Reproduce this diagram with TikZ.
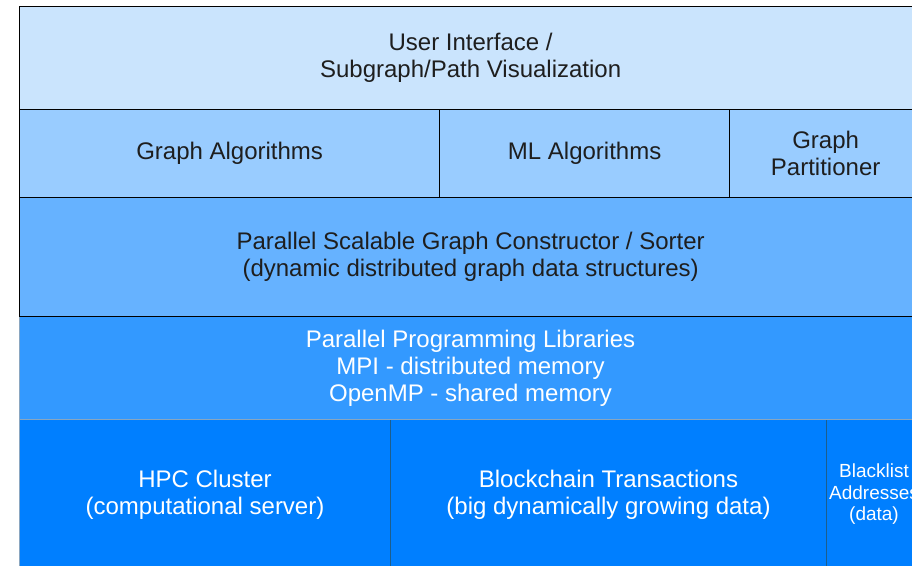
\documentclass[tikz,border=0pt]{standalone}
\usepackage{fontspec}
\setmainfont{Liberation Sans}
\definecolor{cA}{HTML}{CAE4FD}
\definecolor{cB}{HTML}{99CCFF}
\definecolor{cC}{HTML}{66B2FF}
\definecolor{cD}{HTML}{3399FF}
\definecolor{cE}{HTML}{007FFF}
\definecolor{txt}{HTML}{1E1E1E}
\definecolor{lgray}{HTML}{8AA6C0}
\definecolor{teal}{HTML}{1D5E8C}
\tikzset{
  cell/.style={rectangle, draw=black, line width=1.3pt, inner sep=0pt, align=center, anchor=north west, text=txt, font=\fontsize{24}{27}\selectfont},
  lowcell/.style={cell, draw=lgray, line width=1pt, text=white},
}
\begin{document}
\begin{tikzpicture}[x=1pt,y=-1pt]
\useasboundingbox (0,0) rectangle (912,565);
\clip (0,0) rectangle (912,565);
\fill[white] (0,0) rectangle (912,565);
% row 5
\node[lowcell, fill=cE, minimum width=371pt, minimum height=150pt] (hpc) at (19,419) {HPC Cluster\\(computational server)};
\node[lowcell, fill=cE, minimum width=436pt, minimum height=150pt] (bc) at (390,419) {Blockchain Transactions\\(big dynamically growing data)};
\node[lowcell, fill=cE, minimum width=95pt, minimum height=150pt, font=\fontsize{19}{21.5}\selectfont] (bl) at (826,419) {Blacklist\\Addresses\\(data)};
\draw[teal, line width=1pt] (bc.north west) -- (bc.south west);
\draw[teal, line width=1pt] (bl.north west) -- (bl.south west);
% row 4
\node[lowcell, fill=cD, minimum width=902pt, minimum height=103pt] (ppl) at (19,316) {Parallel Programming Libraries\\MPI - distributed memory\\OpenMP - shared memory};
% row 3
\node[cell, fill=cC, minimum width=902pt, minimum height=119pt] (gc) at (19,197) {Parallel Scalable Graph Constructor / Sorter\\(dynamic distributed graph data structures)};
% row 2
\node[cell, fill=cB, minimum width=420pt, minimum height=88pt] (ga) at (19,109) {Graph Algorithms};
\node[cell, fill=cB, minimum width=290pt, minimum height=88pt] (ml) at (439,109) {ML Algorithms};
\node[cell, fill=cB, minimum width=192pt, minimum height=88pt] (gp) at (729,109) {Graph\\Partitioner};
% row 1
\node[cell, fill=cA, minimum width=902pt, minimum height=103pt] (ui) at (19,6) {User Interface /\\Subgraph/Path Visualization};
\end{tikzpicture}
\end{document}
